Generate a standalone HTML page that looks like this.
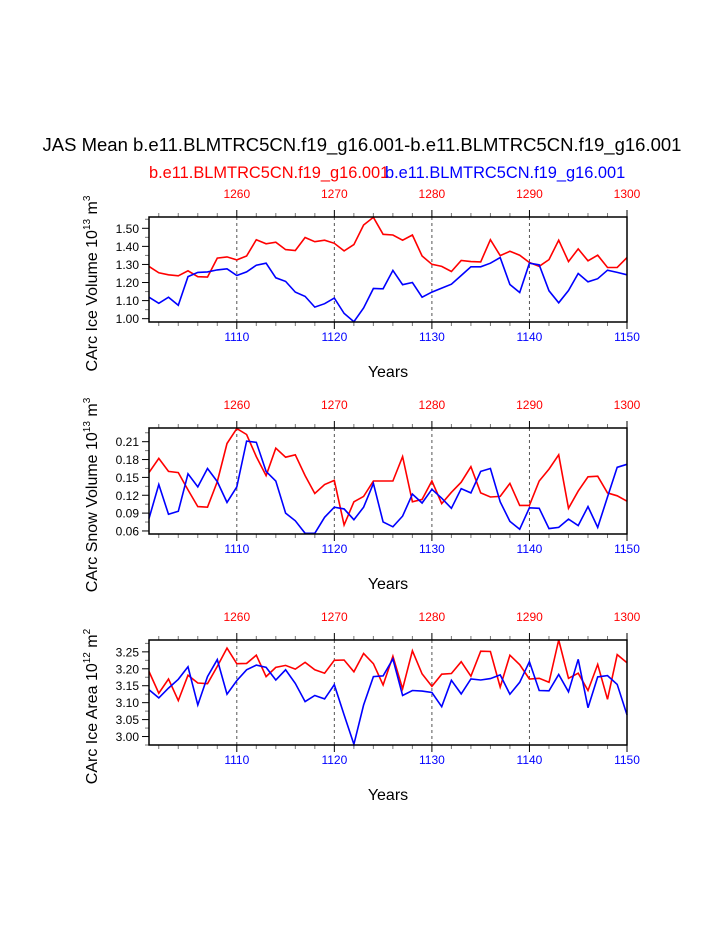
<!DOCTYPE html>
<html><head><meta charset="utf-8"><style>
body{margin:0;background:#fff;width:723px;height:935px;overflow:hidden}
svg{font-family:"Liberation Sans",sans-serif}
</style></head><body>
<svg id="c" width="723" height="935">
<text x="362" y="151" font-size="18.5" text-anchor="middle">JAS Mean b.e11.BLMTRC5CN.f19_g16.001-b.e11.BLMTRC5CN.f19_g16.001</text>
<text x="149" y="178" font-size="16.4" fill="#f00">b.e11.BLMTRC5CN.f19_g16.001</text>
<text x="385" y="178" font-size="16.4" fill="#00f">b.e11.BLMTRC5CN.f19_g16.001</text>
</svg>
<script>
const years=[];for(let y=1101;y<=1150;y++)years.push(y);
const volRed=[1.289,1.254,1.243,1.237,1.265,1.232,1.230,1.335,1.342,1.325,1.347,1.437,1.414,1.423,1.382,1.377,1.449,1.426,1.434,1.417,1.375,1.410,1.518,1.561,1.467,1.463,1.434,1.463,1.347,1.301,1.289,1.261,1.322,1.316,1.314,1.437,1.349,1.373,1.351,1.311,1.290,1.327,1.434,1.316,1.386,1.320,1.351,1.283,1.283,1.338];
const volBlue=[1.119,1.085,1.119,1.074,1.233,1.256,1.259,1.270,1.276,1.239,1.259,1.296,1.307,1.226,1.206,1.147,1.123,1.064,1.083,1.114,1.029,0.983,1.059,1.167,1.165,1.267,1.188,1.200,1.119,1.147,1.169,1.191,1.239,1.287,1.287,1.307,1.338,1.189,1.145,1.307,1.298,1.154,1.088,1.156,1.250,1.204,1.221,1.268,1.256,1.243];
const snowRed=[0.158,0.182,0.160,0.158,0.129,0.101,0.100,0.143,0.207,0.232,0.222,0.185,0.153,0.199,0.184,0.188,0.153,0.123,0.138,0.145,0.070,0.109,0.118,0.144,0.144,0.144,0.185,0.109,0.113,0.144,0.106,0.125,0.142,0.168,0.124,0.117,0.118,0.140,0.103,0.103,0.144,0.164,0.188,0.098,0.127,0.151,0.152,0.124,0.119,0.110];
const snowBlue=[0.081,0.138,0.088,0.093,0.156,0.134,0.165,0.143,0.108,0.134,0.211,0.209,0.160,0.144,0.090,0.077,0.056,0.056,0.083,0.100,0.097,0.079,0.100,0.140,0.075,0.067,0.085,0.122,0.107,0.130,0.115,0.098,0.131,0.124,0.160,0.165,0.109,0.076,0.063,0.099,0.098,0.064,0.066,0.080,0.069,0.101,0.066,0.117,0.167,0.172];
const areaRed=[3.192,3.128,3.170,3.106,3.181,3.158,3.156,3.207,3.261,3.215,3.216,3.240,3.177,3.204,3.210,3.199,3.219,3.197,3.187,3.225,3.226,3.191,3.245,3.215,3.152,3.237,3.141,3.253,3.185,3.148,3.184,3.186,3.221,3.178,3.252,3.251,3.146,3.240,3.212,3.170,3.172,3.160,3.285,3.172,3.187,3.136,3.213,3.110,3.242,3.218];
const areaBlue=[3.138,3.114,3.143,3.169,3.206,3.093,3.177,3.227,3.125,3.165,3.197,3.211,3.204,3.167,3.197,3.157,3.103,3.121,3.111,3.153,3.064,2.977,3.093,3.177,3.179,3.229,3.121,3.136,3.134,3.130,3.088,3.166,3.126,3.170,3.167,3.171,3.182,3.125,3.160,3.221,3.136,3.135,3.183,3.132,3.228,3.085,3.176,3.180,3.154,3.064];
const bottomTicks=[1110,1120,1130,1140,1150];
const topTicks=[1260,1270,1280,1290,1300];
const panels=[
 {top:217,bot:322,min:0.9816,max:1.5625,ticks:[1.00,1.10,1.20,1.30,1.40,1.50],dec:2,red:volRed,blue:volBlue,title:'CArc Ice Volume 10',exp:'13',unit:' m',uexp:'3',name:'ice-volume'},
 {top:428,bot:534,min:0.0549,max:0.233,ticks:[0.06,0.09,0.12,0.15,0.18,0.21],dec:2,red:snowRed,blue:snowBlue,title:'CArc Snow Volume 10',exp:'13',unit:' m',uexp:'3',name:'snow-volume'},
 {top:640,bot:745,min:2.975,max:3.285,ticks:[3.00,3.05,3.10,3.15,3.20,3.25],dec:2,red:areaRed,blue:areaBlue,title:'CArc Ice Area 10',exp:'12',unit:' m',uexp:'2',name:'ice-area'}];
const svg=document.getElementById('c');const NS='http://www.w3.org/2000/svg';
const L=149,R=627;
function X(y){return L+(y-1101)*(R-L)/49;}
function mk(t,a,txt){const e=document.createElementNS(NS,t);for(const k in a)e.setAttribute(k,a[k]);if(txt!==undefined)e.textContent=txt;svg.appendChild(e);return e;}
panels.forEach((p,pi)=>{
 const Y=v=>p.bot-(v-p.min)/(p.max-p.min)*(p.bot-p.top);
 bottomTicks.slice(0,4).forEach(t=>{const g=mk('line',{x1:X(t),x2:X(t),y1:p.top,y2:p.bot,stroke:'#555','stroke-width':1,'stroke-dasharray':'3,3'});
 
 });
 for(let y=1102;y<=1150;y+=2){const maj=(y%10==0);
  mk('line',{x1:X(y),x2:X(y),y1:p.bot,y2:p.bot+(maj?7:4),stroke:maj?'#000':'#777','stroke-width':1});
  mk('line',{x1:X(y),x2:X(y),y1:p.top,y2:p.top-(maj?7:4),stroke:maj?'#000':'#777','stroke-width':1});}
 const step=p.ticks[1]-p.ticks[0];
 for(let v=p.ticks[0]-step/2;v<=p.max;v+=step/2){const yy=Y(v);if(yy<p.top-0.5||yy>p.bot+0.5)continue;
  const maj=p.ticks.some(t=>Math.abs(t-v)<1e-6);mk('line',{x1:L,x2:L-(maj?7:4),y1:yy,y2:yy,stroke:maj?'#000':'#777'});}
 p.ticks.forEach(t=>{const e=mk('text',{x:L-10,y:Y(t)+4.5,'font-size':12,'text-anchor':'end'},t.toFixed(p.dec));
  
  });
 bottomTicks.forEach(t=>{const e=mk('text',{x:X(t),y:p.bot+19,'font-size':12,'text-anchor':'middle',fill:'#00f'},t);
  
  });
 topTicks.forEach((t,i)=>{const e=mk('text',{x:X(bottomTicks[i]),y:p.top-19,'font-size':12,'text-anchor':'middle',fill:'#f00'},t);
  
  });
 const xt=mk('text',{x:388,y:p.bot+55,'font-size':16,'text-anchor':'middle'},'Years');
 
 
 const cy=(p.top+p.bot)/2+14;
 const yt=mk('text',{x:0,y:0,'font-size':16,'text-anchor':'middle',transform:`translate(97,${cy}) rotate(-90)`});
 yt.innerHTML=p.title+'<tspan dy="-7" font-size="10">'+p.exp+'</tspan><tspan dy="7">'+p.unit+'</tspan><tspan dy="-7" font-size="10">'+p.uexp+'</tspan>';
 
 
 [['red',p.red,'#f00'],['blue',p.blue,'#00f']].forEach(([n,arr,c])=>{
  const d=arr.map((v,i)=>(i?'L':'M')+X(years[i]).toFixed(1)+','+Y(v).toFixed(1)).join('');
  const e=mk('path',{d:d,fill:'none',stroke:c,'stroke-width':1.6});
  
  });
 const f=mk('rect',{x:L,y:p.top,width:R-L,height:p.bot-p.top,fill:'none',stroke:'#000','stroke-width':1.5});
 
 
});
</script>
</body></html>
